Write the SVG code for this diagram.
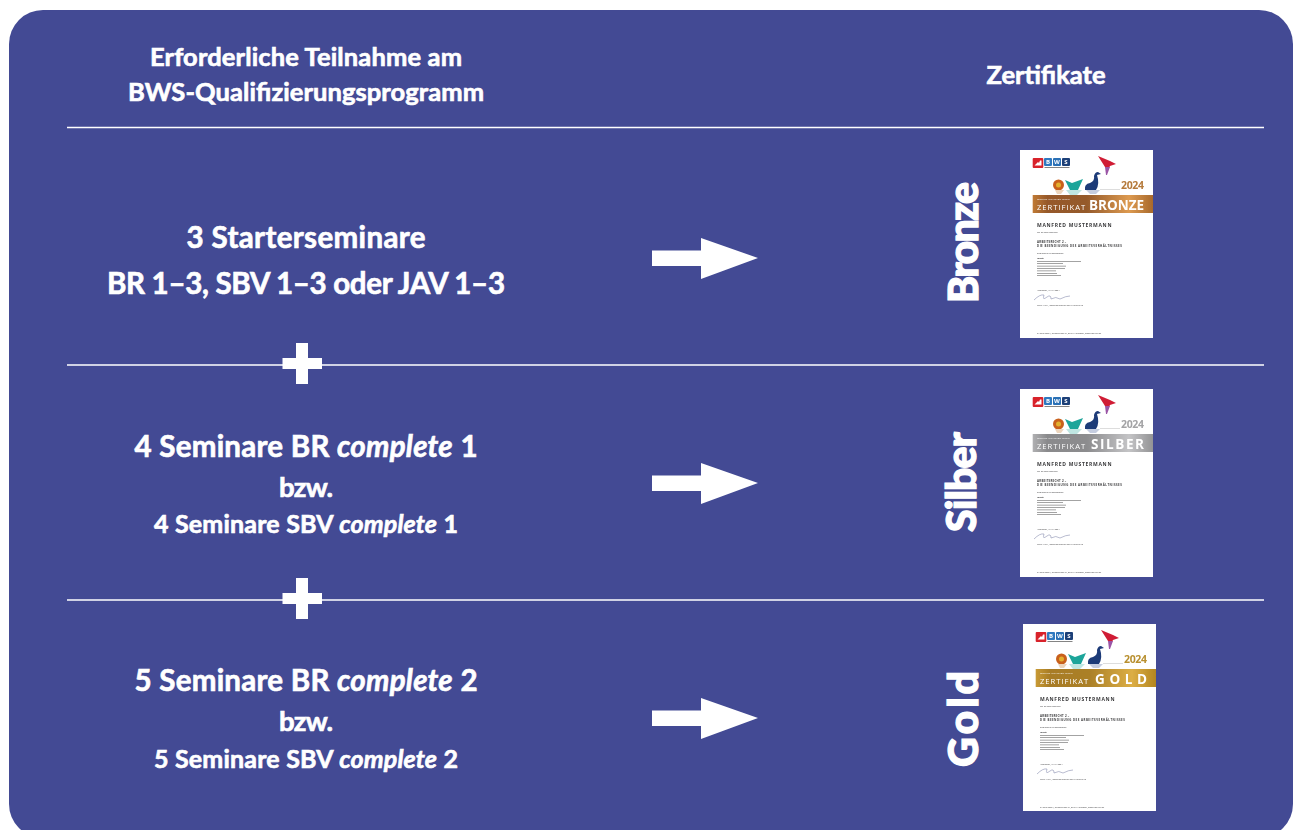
<svg xmlns="http://www.w3.org/2000/svg" width="1293" height="830" viewBox="0 0 1293 830">
<style>
text{font-family:"Lato","Open Sans","Liberation Sans",sans-serif;fill:#fff;font-weight:700}
.c{text-anchor:middle;stroke:#fff;stroke-width:.65px}
.h{font-size:25.500px}
.m{font-size:29.500px}
.b{font-size:27.500px}
.s{font-size:25px}
.v{font-size:41px;font-weight:900;text-anchor:middle;stroke:#fff;stroke-width:1.200px}
.rule{stroke:#fff;stroke-width:1.6;fill:none}
.cert{filter:url(#soft)}
.ct{fill:#3a3a3c;font-family:"Open Sans","Liberation Sans",sans-serif}
.name{font-size:5px;font-weight:700;letter-spacing:.55px}
.t{font-size:2.900px;font-weight:700;letter-spacing:.25px}
.f{font-size:2.200px;font-weight:400}
.ft{font-size:2.100px;font-weight:400}
.bz{font-size:2.300px;font-weight:400;fill:#fff;font-family:"Open Sans","Liberation Sans",sans-serif}
.zt{font-size:7.600px;font-weight:400;fill:#fff;letter-spacing:.75px;font-family:"Open Sans","Liberation Sans",sans-serif}
.lv{font-size:13.500px;font-weight:700;fill:#fff;font-family:"Open Sans","Liberation Sans",sans-serif}
.yr{font-size:10.500px;font-weight:700;font-family:"Open Sans","Liberation Sans",sans-serif}
.bw{font-size:6px;font-weight:700;fill:#fff;text-anchor:middle;font-family:"Open Sans","Liberation Sans",sans-serif}
</style>
<defs>
<filter id="soft" x="-2%" y="-2%" width="104%" height="104%"><feGaussianBlur stdDeviation=".3"/></filter>
<linearGradient id="gb" x1="0" x2="1" y1="0" y2="0"><stop offset="0" stop-color="#c07a35"/><stop offset=".12" stop-color="#96592a"/><stop offset=".45" stop-color="#955a2b"/><stop offset=".8" stop-color="#dd9a50"/><stop offset="1" stop-color="#a8692c"/></linearGradient>
<linearGradient id="gs" x1="0" x2="1" y1="0" y2="0"><stop offset="0" stop-color="#b0b0b2"/><stop offset=".12" stop-color="#8a8a8c"/><stop offset=".45" stop-color="#8c8c8e"/><stop offset=".8" stop-color="#c4c4c6"/><stop offset="1" stop-color="#939395"/></linearGradient>
<linearGradient id="gg" x1="0" x2="1" y1="0" y2="0"><stop offset="0" stop-color="#c89a35"/><stop offset=".12" stop-color="#a87c25"/><stop offset=".45" stop-color="#ab8028"/><stop offset=".8" stop-color="#dcae45"/><stop offset="1" stop-color="#b4861f"/></linearGradient>
<path id="arrow" d="M652 250.500H701V238L758 258 701 279V266H652Z" fill="#fff"/>
<path id="plus" d="M296 343H308V358H322V369H308V384H296V369H282.500V358H296Z" fill="#fff"/>
<g id="art">
<rect x="12.700" y="8" width="10.600" height="10" rx="1" fill="#d8202c"/>
<path d="M14.500 15.500L18 12 19 13 20 10.500H21.500V15.500Z" fill="#fff"/>
<rect x="24" y="8" width="8" height="8" rx="1" fill="#2f79c0"/>
<rect x="33" y="8" width="8" height="8" rx="1" fill="#2a6fb5"/>
<rect x="42" y="8" width="8" height="8" rx="1" fill="#1f3f78"/>
<rect x="24.500" y="17.200" width="25" height=".8" fill="#666"/>
<path d="M78 6L90 11 96 14 90 16 88 20 85 17Z" fill="#d01f35"/>
<path d="M85 17L90 17 87 25 86 25Z" fill="#9a55a6"/>
<path d="M65 40Q64 34 70 33Q75 31 74 26Q75 22 78 22L81 24 77 25Q80 34 76 40Z" fill="#1f3a78"/>
<path d="M45 30L52 33 63 29 58 40H50Z" fill="#1fa59a"/>
<circle cx="38.500" cy="35" r="5.500" fill="#c9611f"/>
<circle cx="38.500" cy="35" r="2.500" fill="#e2b02e"/>
<path d="M35 40H44L41 44H37Z" fill="#ecd5bd"/>
<path d="M46 40H62L57 45H50Z" fill="#bfe6e2"/>
<path d="M66 40H80L76 44H70Z" fill="#c5cde0"/>
<rect x="80" y="39" width="20" height=".5" fill="#bbb"/>
<g fill="#666">
<rect x="17" y="111" width="44" height=".6"/><rect x="17" y="113.400" width="26" height=".6"/><rect x="17" y="115.800" width="29" height=".6"/><rect x="17" y="118.200" width="28" height=".6"/><rect x="17" y="120.600" width="19" height=".6"/><rect x="17" y="123" width="20" height=".6"/><rect x="17" y="125.400" width="24" height=".6"/>
</g>
<path d="M14 150Q20 144 24 145 22 151 27 147 31 144 31 149 36 146 40 149 46 146 50 146" fill="none" stroke="#8a8fb0" stroke-width=".6"/>
</g>
</defs>
<rect x="9" y="10" width="1284" height="828" rx="34" fill="#434a94"/>

<g id="connectors">
<path class="rule" d="M67 127.500H1264M67 365H1264M67 600H1264"/>
<use href="#plus"/><use href="#plus" y="235"/>
<use href="#arrow"/><use href="#arrow" y="225"/><use href="#arrow" y="460"/>
</g>

<g id="header-left"><text class="c h" x="306" y="66" textLength="312">Erforderliche Teilnahme am</text><text class="c h" x="306" y="101" textLength="356">BWS-Qualifizierungsprogramm</text></g>
<g id="header-right"><text class="c h" x="1046" y="84" textLength="119">Zertifikate</text></g>

<g id="row-bronze">
<text class="c m" x="306" y="248" textLength="239">3 Starterseminare</text>
<text class="c m" x="306" y="294" textLength="398">BR 1–3, SBV 1–3 oder JAV 1–3</text>
</g>
<g id="row-silber">
<text class="c m" x="306" y="457" textLength="343">4 Seminare BR <tspan font-style="italic">complete</tspan> 1</text>
<text class="c b" x="306" y="497" textLength="54">bzw.</text>
<text class="c s" x="306" y="533" textLength="304">4 Seminare SBV <tspan font-style="italic">complete</tspan> 1</text>
</g>
<g id="row-gold">
<text class="c m" x="306" y="691" textLength="343">5 Seminare BR <tspan font-style="italic">complete</tspan> 2</text>
<text class="c b" x="306" y="731" textLength="54">bzw.</text>
<text class="c s" x="306" y="768" textLength="304">5 Seminare SBV <tspan font-style="italic">complete</tspan> 2</text>
</g>

<g id="label-bronze"><text class="v" transform="translate(978 242.500) rotate(-90)" textLength="121">Bronze</text></g>
<g id="label-silber"><text class="v" transform="translate(975.500 482) rotate(-90)" textLength="100">Silber</text></g>
<g id="label-gold"><text class="v" transform="translate(978 719) rotate(-90)" textLength="96">Gold</text></g>

<g id="cert-bronze" class="cert" transform="translate(1020 150)">
<rect width="133" height="188" fill="#fff"/><use href="#art"/>
<text class="bw" x="28" y="14.200">B</text><text class="bw" x="37" y="14.200">W</text><text class="bw" x="46" y="14.200">S</text>
<text class="yr" x="101" y="39" style="fill:#b57a3b" textLength="23">2024</text>
<rect x="12.700" y="45" width="120.300" height="18" fill="url(#gb)"/>
<text class="bz" x="17" y="50">BILDUNG AUF HOHEM NIVEAU</text>
<text class="zt" x="17" y="59.500" textLength="49">ZERTIFIKAT</text><text class="lv" x="69" y="59.500" textLength="55">BRONZE</text>
<text class="ct name" x="17" y="77" textLength="75">MANFRED MUSTERMANN</text>
<text class="ct f" x="17" y="82.500">hat an dem Seminar</text>
<text class="ct t" x="17" y="92.500">ARBEITSRECHT 2 –</text>
<text class="ct t" x="17" y="97" textLength="85">DIE BEENDIGUNG DES ARBEITSVERHÄLTNISSES</text>
<text class="ct f" x="17" y="103.500">erfolgreich teilgenommen</text>
<text class="ct f" x="17" y="108.500" style="font-weight:700">Inhalt:</text>
<text class="ct f" x="17" y="141">Hannover, XX.XX.2024</text>
<text class="ct f" x="17" y="156">Peter Wirtz, Geschäftsführer der b.i.BUS BWS</text>
<text class="ct ft" x="17" y="184.300">b.i.BUS GmbH, Grimpstraße 24, 30161 Hannover, www.bgv-bus.de</text>
</g>

<g id="cert-silber" class="cert" transform="translate(1020 389)">
<rect width="133" height="188" fill="#fff"/><use href="#art"/>
<text class="bw" x="28" y="14.200">B</text><text class="bw" x="37" y="14.200">W</text><text class="bw" x="46" y="14.200">S</text>
<text class="yr" x="101" y="39" style="fill:#a3a3a5" textLength="23">2024</text>
<rect x="12.700" y="45" width="120.300" height="18" fill="url(#gs)"/>
<text class="bz" x="17" y="50">BILDUNG AUF HOHEM NIVEAU</text>
<text class="zt" x="17" y="59.500" textLength="49">ZERTIFIKAT</text><text class="lv" x="71" y="59.500" textLength="53">SILBER</text>
<text class="ct name" x="17" y="77" textLength="75">MANFRED MUSTERMANN</text>
<text class="ct f" x="17" y="82.500">hat an dem Seminar</text>
<text class="ct t" x="17" y="92.500">ARBEITSRECHT 2 –</text>
<text class="ct t" x="17" y="97" textLength="85">DIE BEENDIGUNG DES ARBEITSVERHÄLTNISSES</text>
<text class="ct f" x="17" y="103.500">erfolgreich teilgenommen</text>
<text class="ct f" x="17" y="108.500" style="font-weight:700">Inhalt:</text>
<text class="ct f" x="17" y="141">Hannover, XX.XX.2024</text>
<text class="ct f" x="17" y="156">Peter Wirtz, Geschäftsführer der b.i.BUS BWS</text>
<text class="ct ft" x="17" y="184.300">b.i.BUS GmbH, Grimpstraße 24, 30161 Hannover, www.bgv-bus.de</text>
</g>

<g id="cert-gold" class="cert" transform="translate(1023 624)">
<rect width="133" height="187" fill="#fff"/><use href="#art"/>
<text class="bw" x="28" y="14.200">B</text><text class="bw" x="37" y="14.200">W</text><text class="bw" x="46" y="14.200">S</text>
<text class="yr" x="101" y="39" style="fill:#b88f2e" textLength="23">2024</text>
<rect x="12.700" y="45" width="120.300" height="18" fill="url(#gg)"/>
<text class="bz" x="17" y="50">BILDUNG AUF HOHEM NIVEAU</text>
<text class="zt" x="17" y="59.500" textLength="49">ZERTIFIKAT</text><text class="lv" x="72" y="59.500" textLength="52">GOLD</text>
<text class="ct name" x="17" y="77" textLength="75">MANFRED MUSTERMANN</text>
<text class="ct f" x="17" y="82.500">hat an dem Seminar</text>
<text class="ct t" x="17" y="92.500">ARBEITSRECHT 2 –</text>
<text class="ct t" x="17" y="97" textLength="85">DIE BEENDIGUNG DES ARBEITSVERHÄLTNISSES</text>
<text class="ct f" x="17" y="103.500">erfolgreich teilgenommen</text>
<text class="ct f" x="17" y="108.500" style="font-weight:700">Inhalt:</text>
<text class="ct f" x="17" y="141">Hannover, XX.XX.2024</text>
<text class="ct f" x="17" y="156">Peter Wirtz, Geschäftsführer der b.i.BUS BWS</text>
<text class="ct ft" x="17" y="184.300">b.i.BUS GmbH, Grimpstraße 24, 30161 Hannover, www.bgv-bus.de</text>
</g>
</svg>
